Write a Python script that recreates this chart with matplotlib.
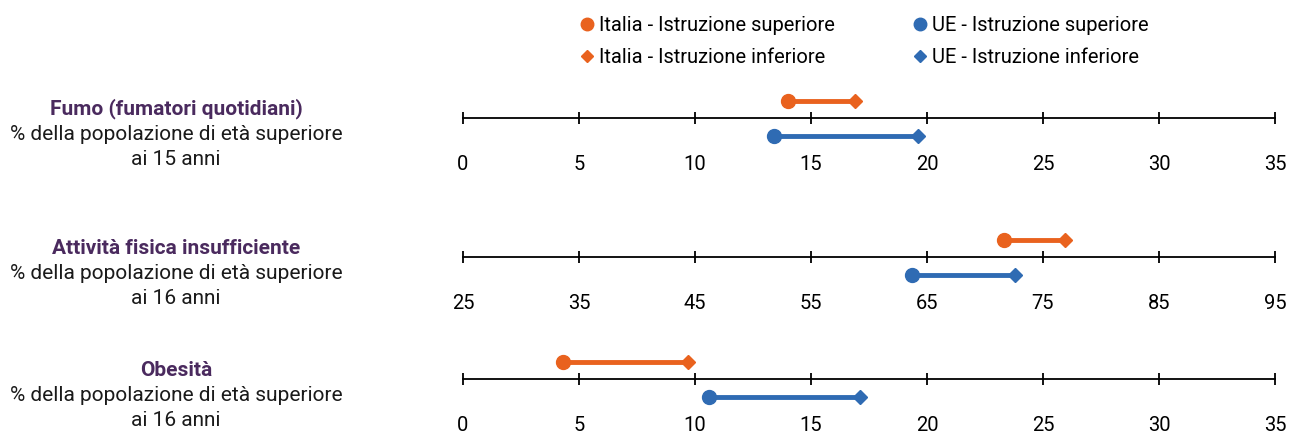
import matplotlib
matplotlib.use("Agg")
import matplotlib.pyplot as plt
from matplotlib.lines import Line2D

plt.rcParams['font.family'] = ['Roboto', 'DejaVu Sans']

# dati
titoli = ["Fumo (fumatori quotidiani)", "Attività fisica insufficiente", "Obesità"]
sottotitoli = ["% della popolazione di età superiore\nai 15 anni",
               "% della popolazione di età superiore\nai 16 anni",
               "% della popolazione di età superiore\nai 16 anni"]
ita_sup = [14.0, 71.6, 4.3]
ita_inf = [16.9, 76.9, 9.7]
ue_sup = [13.4, 63.7, 10.6]
ue_inf = [19.6, 72.6, 17.1]
assi = [(0, 35, 5), (25, 95, 10), (0, 35, 5)]

ARANCIO = '#E9621E'
BLU = '#2F6BB3'
VIOLA = '#4A2A5E'

W, H = 1289, 434
fig = plt.figure(figsize=(W / 100, H / 100), dpi=100)

linee_y = [118, 257, 379]   # posizione delle righe in pixel
x0, x1 = 463, 1275

for i in range(3):
    yl = linee_y[i]
    ax = fig.add_axes([x0 / W, (H - (yl + 40)) / H, (x1 - x0) / W, 80 / H])
    lo, hi, step = assi[i]
    ax.set_xlim(lo, hi)
    ax.set_ylim(-40, 40)
    ax.set_xticks(range(lo, hi + 1, step))
    for s in ['top', 'right', 'left']:
        ax.spines[s].set_visible(False)
    ax.spines['bottom'].set_position(('data', 0))
    ax.spines['bottom'].set_linewidth(1.3)
    ax.set_yticks([])
    ax.tick_params(axis='x', direction='inout', length=9, width=1.3,
                   pad=22, labelsize=14.5, colors='black')
    ax.patch.set_visible(False)

    ax.plot([ita_sup[i], ita_inf[i]], [17.5, 17.5], color=ARANCIO, lw=3.5, solid_capstyle='butt', clip_on=False)
    ax.plot(ita_sup[i], 17.5, 'o', color=ARANCIO, ms=10, clip_on=False)
    ax.plot(ita_inf[i], 17.5, 'D', color=ARANCIO, ms=7, clip_on=False)
    ax.plot([ue_sup[i], ue_inf[i]], [-17.5, -17.5], color=BLU, lw=3.5, solid_capstyle='butt', clip_on=False)
    ax.plot(ue_sup[i], -17.5, 'o', color=BLU, ms=10, clip_on=False)
    ax.plot(ue_inf[i], -17.5, 'D', color=BLU, ms=7, clip_on=False)

    fig.text(176 / W, (H - (yl - 9)) / H, titoli[i], ha='center', va='center',
             fontsize=15, fontweight='bold', color=VIOLA)
    fig.text(176 / W, (H - (yl + 7)) / H, sottotitoli[i], ha='center', va='top',
             fontsize=15, color='#1a1a1a', linespacing=1.4)

handles = [Line2D([], [], marker='o', ls='', color=ARANCIO, ms=9),
           Line2D([], [], marker='D', ls='', color=ARANCIO, ms=6),
           Line2D([], [], marker='o', ls='', color=BLU, ms=9),
           Line2D([], [], marker='D', ls='', color=BLU, ms=6)]
etichette = ["Italia - Istruzione superiore", "Italia - Istruzione inferiore",
             "UE - Istruzione superiore", "UE - Istruzione inferiore"]
fig.legend(handles, etichette, ncol=2, frameon=False, loc='upper left',
           bbox_to_anchor=(563 / W, 1.005), fontsize=14.5, handlelength=0.6,
           handletextpad=0.3, columnspacing=3.9, labelspacing=0.65)

fig.savefig('out.png', dpi=100)
